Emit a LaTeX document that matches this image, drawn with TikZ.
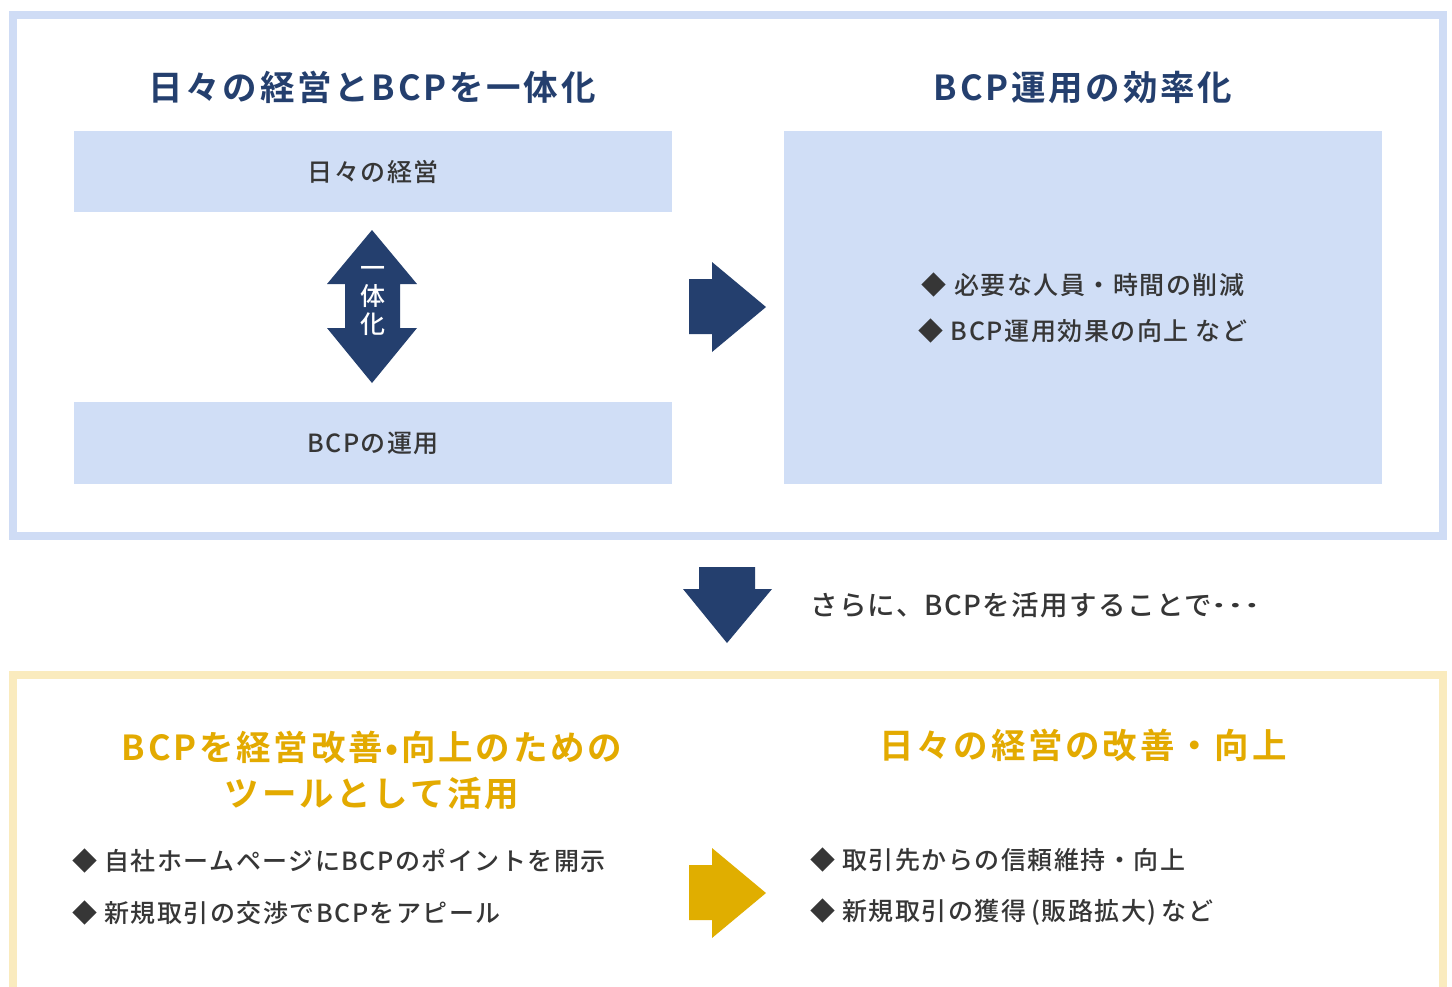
\documentclass[tikz,border=0pt]{standalone}
\usepackage{graphicx}
\usepackage{fontspec}
\setmainfont{Noto Sans CJK JP}[LetterSpace=6, UprightFont=* Medium, BoldFont=* Bold]
\definecolor{navy}{HTML}{243F6E}
\definecolor{lblue}{HTML}{D0DEF6}
\definecolor{frameblue}{HTML}{CFDCF5}
\definecolor{frameyel}{HTML}{FAEBBE}
\definecolor{gold}{HTML}{E3AA00}
\definecolor{goldarrow}{HTML}{E0AE00}
\definecolor{txt}{HTML}{363636}
\begin{document}
\begin{tikzpicture}[x=1pt,y=-1pt,
  titlenavy/.style={font=\fontsize{34.5}{40}\selectfont\bfseries\addfontfeature{LetterSpace=8}, text=navy, inner sep=0},
  titlegold/.style={font=\fontsize{34.5}{46}\selectfont\bfseries\addfontfeature{LetterSpace=8}, text=gold, inner sep=0, align=center},
  body/.style={font=\fontsize{25}{28}\selectfont, text=txt, inner sep=0},
  bluebox/.style={fill=lblue, inner sep=0, minimum width=598pt},
]
\useasboundingbox (0,0) rectangle (1452,986);
\fill[white] (0,0) rectangle (1452,986);
% frames
\draw[frameblue, line width=8pt] (13,15) rectangle (1443,536);
\draw[frameyel, line width=8pt] (13,1000) -- (13,675) -- (1443,675) -- (1443,1000);

% top titles
\node[titlenavy] (t1) at (372,87) {日々の経営とBCPを一体化};
\node[titlenavy] (t2) at (1083,87) {BCP運用の効率化};

% left boxes
\node[bluebox, body, minimum height=81pt] (b1) at (373,171.5) {日々の経営};
\node[bluebox, body, minimum height=82pt] (b2) at (373,443) {BCPの運用};

% double arrow
\fill[navy] (372,230) -- (417,284) -- (400,284) -- (400,328) -- (417,328) -- (372,383)
  -- (327,328) -- (345,328) -- (345,284) -- (327,284) -- cycle;
\node[font=\fontsize{25}{28}\selectfont, text=white, align=center, inner sep=0] (ittai) at (373,301) {一\\体\\化};

% right arrow
\fill[navy] (689,279) -- (712,279) -- (712,262) -- (766,307) -- (712,352) -- (712,334) -- (689,334) -- cycle;

% right box
\node[bluebox, minimum height=353pt] (r) at (1083,307.5) {};
\node[body] (r1) at (1083,285) {◆ 必要な人員・時間の削減};
\node[body] (r2) at (1083,331) {◆ BCP運用効果の向上 など};

% down arrow
\fill[navy] (699,567) -- (755,567) -- (755,589) -- (772,589) -- (727,643) -- (683,589) -- (699,589) -- cycle;
\node[body, font=\fontsize{27.5}{30}\selectfont\addfontfeature{LetterSpace=5}, anchor=west] (mid) at (810,605) {さらに、BCPを活用することで\raisebox{0.3em}{\scalebox{1.6}[1]{…}}};

% bottom titles
\node[titlegold] (t3) at (372,770) {BCPを経営改善•向上のための\\ツールとして活用};
\node[titlegold] (t4) at (1083,745) {日々の経営の改善・向上};

% bottom bullets
\node[body, anchor=west] (l1) at (72,861) {◆ 自社ホームページにBCPのポイントを開示};
\node[body, anchor=west] (l2) at (72,913) {◆ 新規取引の交渉でBCPをアピール};
\node[body, anchor=west] (q1) at (810,860) {◆ 取引先からの信頼維持・向上};
\node[body, anchor=west] (q2) at (810,912) {◆ 新規取引の獲得\hspace{0.2em}(販路拡大)\hspace{0.2em}など};

% yellow arrow
\fill[goldarrow] (689,865) -- (712,865) -- (712,848) -- (766,893) -- (712,938) -- (712,920) -- (689,920) -- cycle;
\end{tikzpicture}
\end{document}
